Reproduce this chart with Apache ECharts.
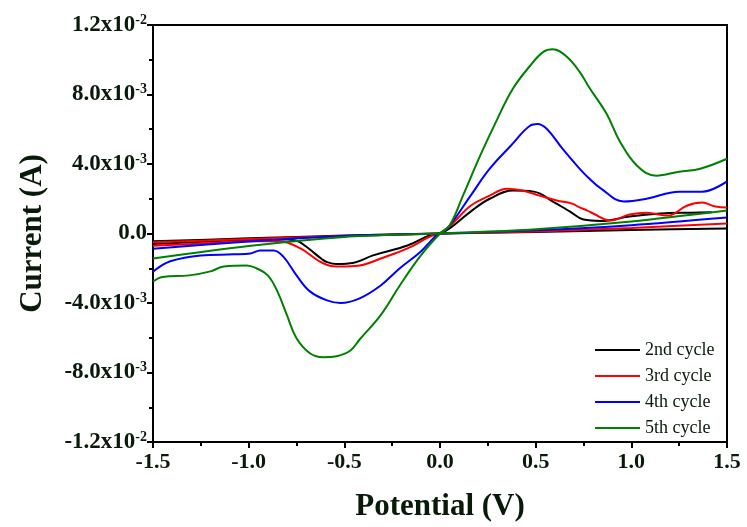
<!DOCTYPE html>
<html><head><meta charset="utf-8">
<script src="https://cdn.jsdelivr.net/npm/echarts@6/dist/echarts.min.js"></script>
<style>html,body{margin:0;padding:0;background:#fff}#c{width:747px;height:527px}</style>
</head><body><div id="c"></div>
<script>
// ---- data (current in A, potential in V) ----
const cycleNames = ['2nd cycle', '3rd cycle', '4th cycle', '5th cycle'];
const cycleColors = ['#000000', '#ff0000', '#0000ff', '#008000'];

// wave (redox) branches
const wave2E = [-1.5,-1.2,-1.0,-0.85,-0.75,-0.70,-0.66,-0.62,-0.59,-0.54,-0.45,-0.35,-0.17,-0.04,0,0.05,0.16,0.26,0.38,0.49,0.59,0.68,0.75,0.84,0.99,1.15,1.32,1.42];
const wave2I = [-0.6e-3,-0.45e-3,-0.37e-3,-0.32e-3,-0.42e-3,-0.75e-3,-1.1e-3,-1.45e-3,-1.65e-3,-1.76e-3,-1.68e-3,-1.26e-3,-0.69e-3,-0.05e-3,0,0.29e-3,1.26e-3,2.0e-3,2.47e-3,2.41e-3,1.84e-3,1.26e-3,0.8e-3,0.72e-3,0.98e-3,1.15e-3,1.2e-3,1.22e-3];

const wave3E = [-1.5,-1.2,-1.0,-0.84,-0.73,-0.63,-0.56,-0.52,-0.42,-0.31,-0.17,-0.05,0,0.05,0.16,0.26,0.35,0.43,0.52,0.61,0.69,0.73,0.77,0.80,0.89,0.99,1.08,1.19,1.29,1.37,1.44,1.5];
const wave3I = [-0.7e-3,-0.55e-3,-0.45e-3,-0.44e-3,-0.86e-3,-1.6e-3,-1.88e-3,-1.9e-3,-1.84e-3,-1.44e-3,-0.86e-3,-0.17e-3,0,0.4e-3,1.6e-3,2.18e-3,2.58e-3,2.47e-3,2.18e-3,1.9e-3,1.72e-3,1.5e-3,1.32e-3,1.15e-3,0.75e-3,1.09e-3,1.2e-3,1.03e-3,1.6e-3,1.78e-3,1.55e-3,1.5e-3];

const wave4E = [-1.5,-1.41,-1.25,-1.08,-0.99,-0.94,-0.87,-0.82,-0.75,-0.68,-0.59,-0.52,-0.42,-0.31,-0.21,-0.10,-0.02,0,0.05,0.16,0.26,0.37,0.47,0.51,0.56,0.64,0.72,0.78,0.84,0.96,1.08,1.25,1.37,1.5];
const wave4I = [-2.2e-3,-1.6e-3,-1.26e-3,-1.2e-3,-1.15e-3,-0.98e-3,-0.98e-3,-1.32e-3,-2.41e-3,-3.33e-3,-3.85e-3,-4.0e-3,-3.73e-3,-2.99e-3,-2.0e-3,-1.03e-3,-0.11e-3,0,0.46e-3,2.18e-3,3.73e-3,5.05e-3,6.2e-3,6.3e-3,6.0e-3,4.88e-3,3.85e-3,3.16e-3,2.6e-3,1.84e-3,2.0e-3,2.41e-3,2.41e-3,3.0e-3];

const wave5E = [-1.5,-1.45,-1.31,-1.2,-1.13,-1.01,-0.96,-0.90,-0.85,-0.80,-0.75,-0.68,-0.61,-0.54,-0.47,-0.42,-0.31,-0.21,-0.10,0,0.05,0.12,0.21,0.30,0.38,0.47,0.54,0.59,0.66,0.73,0.78,0.87,0.94,1.03,1.13,1.25,1.36,1.5];
const wave5I = [-2.76e-3,-2.5e-3,-2.41e-3,-2.18e-3,-1.9e-3,-1.84e-3,-2.0e-3,-2.41e-3,-3.33e-3,-4.7e-3,-6.03e-3,-6.89e-3,-7.12e-3,-7.06e-3,-6.75e-3,-6.1e-3,-4.7e-3,-2.99e-3,-1.26e-3,0,0.46e-3,2.18e-3,4.48e-3,6.6e-3,8.32e-3,9.64e-3,10.45e-3,10.6e-3,10.2e-3,9.3e-3,8.4e-3,6.9e-3,5.3e-3,3.9e-3,3.33e-3,3.56e-3,3.73e-3,4.3e-3];

// nearly straight (background) branches
const lineE = [-1.5,-1.0,-0.5,0,0.5,1.0,1.5];
const line2I = [-0.45e-3,-0.28e-3,-0.12e-3,0,0.08e-3,0.2e-3,0.29e-3];
const line3I = [-0.5e-3,-0.32e-3,-0.14e-3,0,0.12e-3,0.32e-3,0.57e-3];
const line4I = [-0.88e-3,-0.46e-3,-0.14e-3,0,0.18e-3,0.48e-3,0.92e-3];
const line5I = [-1.44e-3,-0.72e-3,-0.2e-3,0,0.25e-3,0.69e-3,1.32e-3];

const xTicks = [-1.5,-1.0,-0.5,0.0,0.5,1.0,1.5];
const yTicks = [-0.012,-0.008,-0.004,0,0.004,0.008,0.012];

const waves = [[wave2E,wave2I],[wave3E,wave3I],[wave4E,wave4I],[wave5E,wave5I]];
const lines = [line2I,line3I,line4I,line5I];

const zip = (a,b) => a.map((v,i)=>[v,b[i]]);
const FONT = '"Liberation Serif","Times New Roman",serif';
const TXT = '#0a1a0a';

const series = [];
cycleNames.forEach((n,k)=>{
  series.push({name:n,type:'line',data:zip(lineE,lines[k]),showSymbol:false,smooth:0.3,
    lineStyle:{color:cycleColors[k],width:2},itemStyle:{color:cycleColors[k]},z:2+k});
  series.push({name:n,type:'line',data:zip(waves[k][0],waves[k][1]),showSymbol:false,smooth:0.4,
    lineStyle:{color:cycleColors[k],width:2},itemStyle:{color:cycleColors[k]},z:2+k});
});

function yFmt(v){
  if (Math.abs(v) < 1e-12) return '{b|0.0}';
  const s = v<0?'-':'';
  const a = Math.abs(v);
  let e = Math.floor(Math.log10(a)+1e-9);
  let m = a/Math.pow(10,e);
  return '{b|'+s+m.toFixed(1)+'x10}{s|'+e+'}';
}

const chart = echarts.init(document.getElementById('c'),null,{renderer:'canvas'});
chart.setOption({
  animation:false,
  backgroundColor:'#fff',
  grid:{left:153,right:20,top:25,bottom:83,show:true,borderColor:'#000',borderWidth:2,backgroundColor:'transparent'},
  legend:{
    orient:'vertical',left:590,top:336,itemWidth:45,itemHeight:2,itemGap:8,icon:'rect',
    data:cycleNames,
    textStyle:{fontFamily:FONT,fontSize:18,color:TXT,padding:[0,0,0,0]},
    selectedMode:false
  },
  xAxis:{
    type:'value',min:-1.5,max:1.5,interval:0.5,
    name:'Potential (V)',nameLocation:'middle',nameGap:49,
    nameTextStyle:{fontFamily:FONT,fontWeight:'bold',fontSize:31,color:TXT},
    axisLine:{show:true,onZero:false,lineStyle:{color:'#000',width:2}},
    axisTick:{show:true,inside:false,length:6,lineStyle:{color:'#000',width:2}},
    minorTick:{show:true,splitNumber:2,length:4,lineStyle:{color:'#000',width:2}},
    splitLine:{show:false},
    axisLabel:{fontFamily:FONT,fontWeight:'bold',fontSize:22,color:TXT,margin:9,
      formatter:v=>v.toFixed(1)}
  },
  yAxis:{
    type:'value',min:-0.012,max:0.012,interval:0.004,
    name:'Current (A)',nameLocation:'middle',nameGap:105,
    nameTextStyle:{fontFamily:FONT,fontWeight:'bold',fontSize:31,color:TXT},
    axisLine:{show:true,onZero:false,lineStyle:{color:'#000',width:2}},
    axisTick:{show:true,inside:false,length:6,lineStyle:{color:'#000',width:2}},
    minorTick:{show:true,splitNumber:2,length:4,lineStyle:{color:'#000',width:2}},
    splitLine:{show:false},
    axisLabel:{fontFamily:FONT,fontWeight:'bold',color:TXT,margin:6,
      formatter:yFmt,
      rich:{
        b:{fontFamily:FONT,fontWeight:'bold',fontSize:23,color:TXT,lineHeight:24},
        s:{fontFamily:FONT,fontWeight:'bold',fontSize:14,color:TXT,verticalAlign:'top',lineHeight:24,padding:[0,0,10,0]}
      }}
  },
  series:series
});
</script></body></html>
